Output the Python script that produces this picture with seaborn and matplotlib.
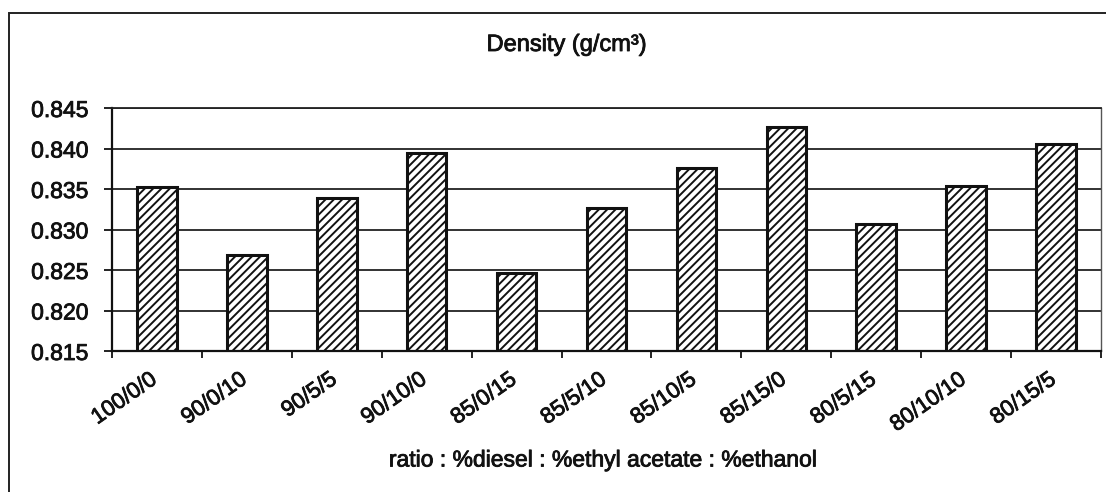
import matplotlib
matplotlib.use("Agg")
import matplotlib.pyplot as plt
import matplotlib.transforms as mtransforms
import matplotlib.patheffects as pe
from matplotlib.patches import Rectangle
import seaborn as sns
import pandas as pd

# Blend ratios (diesel / ethyl acetate / ethanol) and measured densities
ratios = ["100/0/0", "90/0/10", "90/5/5", "90/10/0", "85/0/15", "85/5/10",
          "85/10/5", "85/15/0", "80/5/15", "80/10/10", "80/15/5"]
density = [0.8353, 0.8269, 0.8339, 0.8394, 0.8246, 0.8327,
           0.8376, 0.8426, 0.8307, 0.8354, 0.8405]
y_ticks = [0.815, 0.820, 0.825, 0.830, 0.835, 0.840, 0.845]

df = pd.DataFrame({"ratio": ratios, "density": density})

sns.set_theme(style="white")
plt.rcParams["font.family"] = ["Liberation Sans", "DejaVu Sans"]
plt.rcParams["hatch.linewidth"] = 1.4
plt.rcParams["hatch.color"] = "#1a1a1a"

W, H = 1106, 492
fig = plt.figure(figsize=(W / 100, H / 100), dpi=100)
fig.patch.set_facecolor("white")
ax = fig.add_axes([112 / W, 1 - 351 / H, (1101 - 112) / W, (351 - 108) / H])

sns.barplot(data=df, x="ratio", y="density", color="white", width=0.44,
            edgecolor="#111111", linewidth=2.2, ax=ax)
for p in ax.patches:
    p.set_hatch("////")
    p.set_facecolor("white")

ax.set_ylim(0.815, 0.845)
ax.set_xlim(-0.5, len(ratios) - 0.5)
ax.set_yticks(y_ticks)
ax.set_yticklabels([f"{v:.3f}" for v in y_ticks], fontsize=16.5, color="#111111")

# horizontal gridlines
ax.yaxis.grid(True, color="#222222", linewidth=1.3)
ax.set_axisbelow(True)

# category boundary ticks below the x axis
ax.set_xticks([i - 0.5 for i in range(len(ratios) + 1)], minor=True)
ax.tick_params(axis="x", which="minor", length=5, width=1.3, color="#111111",
               direction="out", bottom=True)
ax.tick_params(axis="x", which="major", length=0, pad=13)
ax.tick_params(axis="y", which="major", length=6, width=1.3, color="#111111",
               direction="out", left=True, pad=11)

ax.set_xticks(range(len(ratios)))
ax.set_xticklabels(ratios, rotation=35, ha="right", rotation_mode="anchor",
                   fontsize=16, color="#111111")
shift = mtransforms.ScaledTranslation(-8 / 100, 0, fig.dpi_scale_trans)
for lbl in ax.get_xticklabels():
    lbl.set_transform(lbl.get_transform() + shift)

ax.set_xlabel("")
ax.set_ylabel("")

for side in ["left", "bottom"]:
    ax.spines[side].set_color("#111111")
    ax.spines[side].set_linewidth(1.6)
ax.spines["top"].set_color("#222222")
ax.spines["top"].set_linewidth(1.3)
ax.spines["right"].set_color("#555555")
ax.spines["right"].set_linewidth(1.0)

title = fig.text(567 / W, 1 - 45 / H, "Density (g/cm³)", ha="center",
                 va="center", fontsize=17, color="#111111")
xlab = fig.text(603 / W, 1 - 460 / H, "ratio : %diesel : %ethyl acetate : %ethanol",
                ha="center", va="center", fontsize=16.5, color="#111111")

# slightly heavier text strokes
heavy = [pe.withStroke(linewidth=0.6, foreground="#111111")]
for t in [title, xlab, *ax.get_xticklabels(), *ax.get_yticklabels()]:
    t.set_path_effects(heavy)

# outer chart frame
fig.patches.append(Rectangle((9 / W, -0.1), 1.2, 1 - 13 / H + 0.1,
                             transform=fig.transFigure, fill=False,
                             edgecolor="#222222", linewidth=1.4))

fig.savefig("out.png", dpi=100, facecolor="white")
